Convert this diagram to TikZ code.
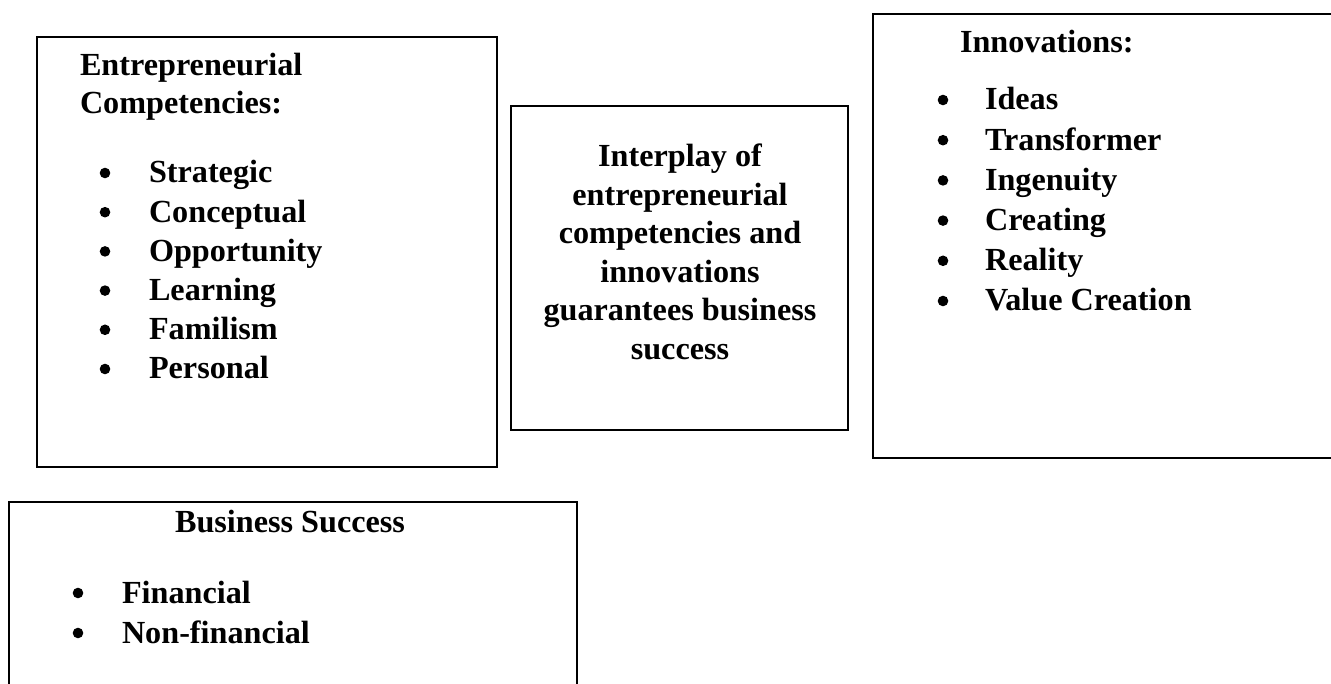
\documentclass[tikz,border=0pt]{standalone}
\usepackage{fontspec}
\setmainfont{Liberation Serif}
\begin{document}
\begin{tikzpicture}[x=1pt,y=-1pt,
  frame/.style={draw=black,line width=2.5pt},
  txt/.style={inner sep=0pt,outer sep=0pt,font=\fontsize{32.2}{38}\selectfont\bfseries},
  item/.style={txt,anchor=base west},
  head/.style={txt,anchor=base west},
  ctr/.style={txt,anchor=base},
  dot/.style={fill=black}]
\useasboundingbox (0,0) rectangle (1331,684);
\clip (0,0) rectangle (1331,684);

% frames
\draw[frame] (37,37) rectangle (497,467);
\draw[frame,line width=2.2pt] (511,106) rectangle (848,430);
\draw[frame] (1345,14) -- (873,14) -- (873,458) -- (1345,458);
\draw[frame] (9,700) -- (9,502) -- (577,502) -- (577,700);

% entrepreneurial competencies
\node[head] (ec1) at (80,76) {Entrepreneurial};
\node[head] (ec2) at (80,114) {Competencies:};
\foreach \t [count=\i] in {Strategic,Conceptual,Opportunity,Learning,Familism,Personal}{
  \pgfmathsetmacro{\yb}{183+39.2*(\i-1)}
  \fill[dot] (105,\yb-10) circle (5.3);
  \node[item] (ec-\i) at (149,\yb) {\t};
}

% interplay
\foreach \t [count=\i] in {Interplay of,entrepreneurial,competencies and,innovations,guarantees business,success}{
  \pgfmathsetmacro{\yb}{167+38.5*(\i-1)}
  \node[ctr] (ip-\i) at (680,\yb) {\t};
}

% innovations
\node[head] (in0) at (960,53) {Innovations:};
\foreach \t [count=\i] in {Ideas,Transformer,Ingenuity,Creating,Reality,Value Creation}{
  \pgfmathsetmacro{\yb}{110+40.2*(\i-1)}
  \fill[dot] (943,\yb-10) circle (5.3);
  \node[item] (in-\i) at (985,\yb) {\t};
}

% business success
\node[ctr] (bs0) at (290,532) {Business Success};
\foreach \t [count=\i] in {Financial,Non-financial}{
  \pgfmathsetmacro{\yb}{603+40*(\i-1)}
  \fill[dot] (78,\yb-10) circle (5.3);
  \node[item] (bs-\i) at (122,\yb) {\t};
}
\end{tikzpicture}
\end{document}
